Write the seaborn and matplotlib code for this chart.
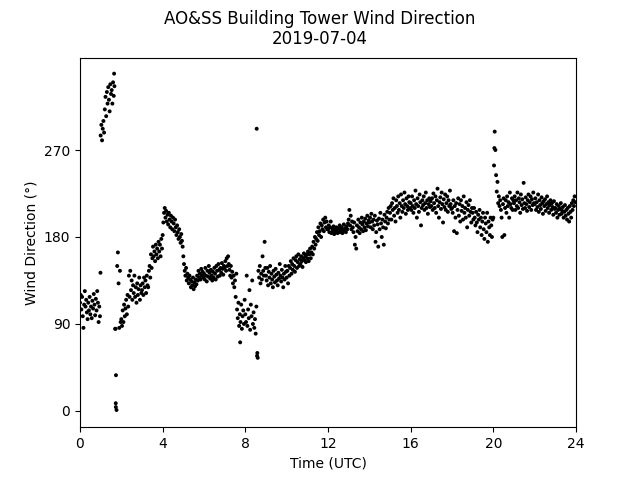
import numpy as np
import pandas as pd
import matplotlib
matplotlib.use("Agg")
import matplotlib.pyplot as plt
import seaborn as sns

# Wind direction (deg), 30 samples per hour (every 2 minutes)
h00 = [112, 120, 105, 118, 98, 86, 110, 124, 108, 115, 102, 95, 112, 104, 118, 100, 108, 96, 114, 106, 121, 110, 99, 116, 104, 124, 112, 92, 108, 98]
h01 = [285, 296, 280, 292, 300, 288, 312, 325, 305, 330, 318, 335, 322, 310, 338, 328, 332, 318, 340, 326, 336, 85, 4, 1, 150, 164, 132, 86, 145, 92]
h02 = [95, 88, 104, 92, 110, 98, 106, 115, 100, 120, 108, 140, 118, 145, 125, 135, 115, 130, 122, 140, 118, 128, 112, 132, 120, 126, 138, 115, 130, 122]
h03 = [125, 132, 120, 138, 128, 135, 122, 140, 130, 128, 145, 150, 138, 162, 148, 158, 170, 160, 165, 155, 172, 162, 168, 158, 175, 165, 172, 160, 178, 168]
h04 = [182, 195, 205, 210, 200, 207, 196, 203, 193, 205, 198, 190, 202, 196, 188, 200, 194, 186, 198, 190, 182, 192, 185, 178, 188, 180, 174, 183, 176, 170]
h05 = [160, 152, 145, 140, 148, 135, 142, 138, 132, 140, 136, 128, 134, 130, 138, 126, 133, 129, 136, 131, 140, 135, 145, 138, 142, 136, 147, 140, 144, 138]
h06 = [142, 136, 148, 140, 134, 145, 139, 150, 143, 137, 146, 140, 135, 144, 138, 148, 142, 136, 150, 145, 139, 152, 146, 140, 148, 143, 153, 147, 141, 150]
h07 = [148, 155, 145, 158, 150, 160, 152, 146, 140, 150, 138, 144, 132, 140, 128, 135, 118, 142, 105, 96, 112, 88, 100, 92, 110, 85, 98, 104, 90, 115]
h08 = [100, 92, 140, 88, 105, 96, 125, 84, 110, 98, 135, 90, 102, 86, 95, 80, 108, 57, 55, 145, 138, 150, 132, 142, 136, 160, 145, 140, 175, 148]
h09 = [140, 135, 148, 130, 144, 138, 150, 132, 142, 136, 128, 145, 139, 133, 147, 141, 135, 130, 143, 137, 152, 140, 134, 146, 138, 128, 142, 136, 150, 144]
h10 = [138, 145, 132, 150, 140, 148, 155, 142, 152, 146, 158, 150, 144, 156, 160, 148, 154, 162, 150, 157, 152, 160, 155, 149, 158, 163, 156, 160, 154, 162]
h11 = [158, 165, 155, 162, 168, 158, 164, 170, 162, 175, 168, 180, 172, 178, 185, 176, 190, 182, 186, 194, 180, 192, 188, 198, 186, 195, 200, 190, 196, 188]
h12 = [188, 192, 185, 190, 196, 184, 189, 186, 191, 183, 188, 185, 190, 187, 184, 189, 186, 192, 185, 188, 190, 184, 187, 193, 186, 189, 185, 191, 188, 194]
h13 = [198, 208, 192, 202, 188, 196, 190, 185, 195, 172, 180, 168, 192, 186, 198, 190, 184, 195, 188, 200, 193, 186, 196, 190, 199, 187, 194, 202, 191, 197]
h14 = [195, 200, 190, 204, 196, 188, 198, 192, 202, 175, 185, 197, 193, 170, 199, 188, 205, 194, 180, 198, 190, 172, 203, 196, 189, 200, 206, 194, 210, 198]
h15 = [205, 212, 198, 215, 208, 220, 202, 210, 196, 218, 212, 205, 222, 208, 215, 200, 224, 212, 206, 218, 210, 226, 214, 204, 220, 212, 208, 222, 216, 210]
h16 = [215, 208, 222, 212, 205, 218, 210, 228, 214, 200, 220, 212, 206, 224, 216, 192, 210, 218, 213, 222, 208, 215, 226, 210, 218, 204, 214, 220, 211, 217]
h17 = [212, 220, 208, 225, 215, 210, 222, 205, 218, 230, 212, 200, 216, 221, 209, 226, 214, 195, 219, 211, 224, 208, 215, 222, 206, 218, 212, 228, 214, 209]
h18 = [210, 205, 218, 186, 212, 200, 215, 184, 208, 220, 202, 214, 196, 218, 207, 212, 198, 222, 205, 210, 200, 216, 190, 208, 213, 202, 218, 206, 195, 210]
h19 = [205, 198, 210, 200, 192, 206, 195, 185, 203, 198, 208, 190, 200, 182, 196, 205, 188, 178, 200, 194, 185, 205, 175, 196, 190, 182, 200, 192, 180, 198]
h20 = [200, 254, 289, 270, 244, 227, 237, 215, 222, 212, 218, 208, 200, 180, 214, 220, 182, 210, 218, 205, 222, 212, 216, 200, 226, 214, 210, 220, 208, 218]
h21 = [215, 222, 208, 218, 212, 226, 210, 220, 216, 205, 224, 213, 219, 209, 236, 215, 210, 221, 214, 207, 218, 224, 211, 216, 222, 208, 219, 213, 226, 215]
h22 = [214, 220, 208, 216, 211, 224, 206, 218, 213, 209, 221, 215, 204, 217, 212, 219, 207, 214, 222, 210, 216, 205, 213, 218, 208, 215, 211, 203, 217, 209]
h23 = [210, 205, 214, 200, 208, 212, 203, 209, 215, 204, 207, 211, 200, 206, 213, 202, 208, 198, 210, 204, 196, 212, 206, 200, 215, 208, 218, 212, 222, 216]

# Isolated readings (hour UTC, direction)
extra_t = [0.99, 1.65, 1.74, 1.73, 1.72, 7.75, 8.55, 8.58, 20.05]
extra_v = [143, 349, 37, 8, 85, 71, 292, 60, 272]

hours = [h00, h01, h02, h03, h04, h05, h06, h07, h08, h09, h10, h11,
         h12, h13, h14, h15, h16, h17, h18, h19, h20, h21, h22, h23]

t_list, v_list = [], []
for h, vals in enumerate(hours):
    n = len(vals)
    for i, v in enumerate(vals):
        t_list.append(h + i / n)
        v_list.append(v)
t_list += extra_t
v_list += extra_v
df = pd.DataFrame({"time": t_list, "dir": v_list})

fig, ax = plt.subplots(figsize=(6.4, 4.8), dpi=100)
sns.scatterplot(data=df, x="time", y="dir", ax=ax, color="black", s=8,
                linewidth=0, edgecolor="none")
ax.set_xlim(0, 24)
ax.set_ylim(-16.8, 365.6)
ax.set_xticks([0, 4, 8, 12, 16, 20, 24])
ax.set_yticks([0, 90, 180, 270])
ax.set_xlabel("Time (UTC)")
ax.set_ylabel("Wind Direction (°)")
fig.suptitle("AO&SS Building Tower Wind Direction\n2019-07-04")
fig.savefig("out.png", dpi=100)
